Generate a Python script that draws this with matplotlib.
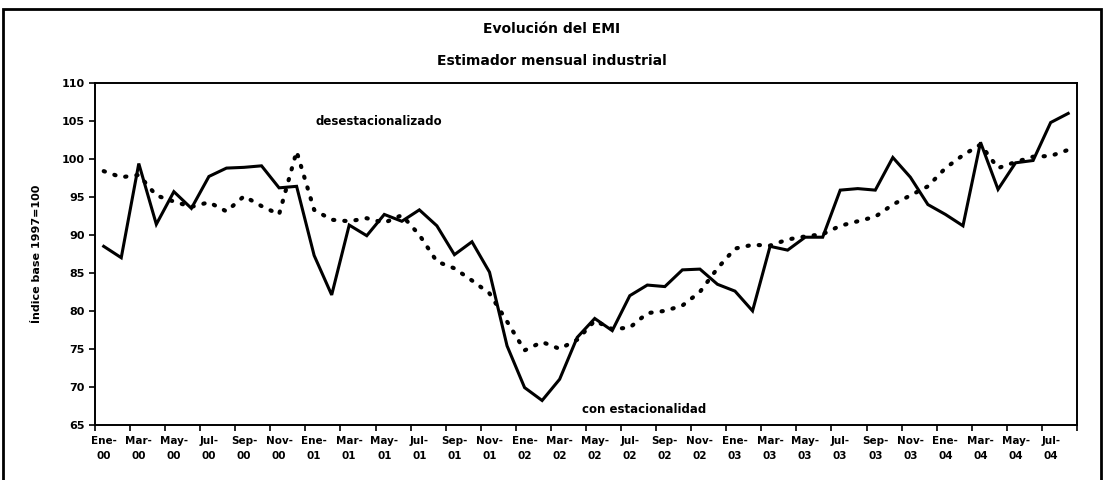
# ==========================================================
# Evolución del EMI - serie original y desestacionalizada
# ==========================================================
import numpy as np
import matplotlib.pyplot as plt
from matplotlib.patches import Rectangle

meses = ['Ene', 'Feb', 'Mar', 'Abr', 'May', 'Jun',
         'Jul', 'Ago', 'Sep', 'Oct', 'Nov', 'Dic']
anios = ['00', '01', '02', '03', '04']

# con estacionalidad (Ene-00 .. Ago-04)
con_estac = [88.5, 87.0, 99.4, 91.4, 95.7, 93.5, 97.7, 98.8, 98.9, 99.1, 96.2, 96.4,
             87.3, 82.1, 91.3, 89.9, 92.7, 91.8, 93.3, 91.2, 87.4, 89.1, 85.1, 75.4,
             69.9, 68.2, 71.0, 76.5, 79.0, 77.4, 82.0, 83.4, 83.2, 85.4, 85.5, 83.5,
             82.6, 80.0, 88.5, 88.0, 89.7, 89.7, 95.9, 96.1, 95.9, 100.2, 97.6, 94.0,
             92.7, 91.2, 102.2, 96.0, 99.5, 99.8, 104.8, 106.0]

# desestacionalizado
desestac = [98.4, 97.6, 97.9, 95.2, 94.4, 93.7, 94.3, 93.1, 95.1, 93.8, 92.7, 101.0,
            93.3, 92.0, 91.8, 92.2, 91.6, 92.6, 90.0, 86.5, 85.6, 84.0, 82.3, 78.6,
            74.8, 75.9, 75.0, 76.2, 78.7, 77.6, 77.8, 79.7, 80.0, 80.7, 82.5, 85.6,
            88.2, 88.7, 88.6, 89.4, 89.8, 90.1, 91.2, 91.8, 92.4, 94.0, 95.2, 96.4,
            98.8, 100.5, 101.9, 98.8, 99.6, 100.3, 100.4, 101.2]

y_ticks = [65, 70, 75, 80, 85, 90, 95, 100, 105, 110]

categorias = [m + '-\n' + a for a in anios for m in meses][:len(con_estac)]
x = np.arange(len(con_estac))

# ==========================================================
# Figura
# ==========================================================
plt.rcParams['font.family'] = 'DejaVu Sans'
plt.rcParams['font.weight'] = 'bold'

fig = plt.figure(figsize=(11.04, 4.8), dpi=100)
ax = fig.add_axes([0.086, 0.115, 0.8895, 0.712])

ax.plot(x, con_estac, color='black', lw=2.2, solid_joinstyle='miter')
ax.plot(x, desestac, color='black', lw=3.0, linestyle=(0, (0.3, 2.4)),
        dash_capstyle='round')

ax.set_xlim(-0.5, len(x) - 0.5)
ax.set_ylim(65, 110)
ax.set_yticks(y_ticks)
ax.set_yticklabels([str(v) for v in y_ticks], fontsize=8, fontweight='bold')

# marcas entre categorias, etiquetas cada dos meses
ax.set_xticks(np.arange(-0.5, len(x), 2))
ax.set_xticklabels([])
ax.set_xticks(x[::2], minor=True)
ax.set_xticklabels(categorias[::2], minor=True, fontsize=7.5,
                   fontweight='bold', linespacing=1.6)
ax.tick_params(axis='x', which='minor', length=0, pad=8)
ax.tick_params(axis='both', which='major', direction='out', length=4,
               width=1.2, color='black')

for s in ax.spines.values():
    s.set_linewidth(1.4)
    s.set_color('black')

ax.set_ylabel('Índice base 1997=100', fontsize=8, fontweight='bold', labelpad=14)

ax.text(15.7, 105, 'desestacionalizado', ha='center', va='center',
        fontsize=8.5, fontweight='bold')
ax.text(30.8, 67.0, 'con estacionalidad', ha='center', va='center',
        fontsize=8.5, fontweight='bold')

fig.text(0.5, 0.94, 'Evolución del EMI', ha='center', va='center',
         fontsize=10, fontweight='bold')
fig.text(0.5, 0.873, 'Estimador mensual industrial', ha='center', va='center',
         fontsize=10, fontweight='bold')

# marco exterior
fig.patches.append(Rectangle((0.003, -0.02), 0.994, 1.002, transform=fig.transFigure,
                             fill=False, edgecolor='black', lw=2.0))

fig.savefig('out.png', dpi=100)
